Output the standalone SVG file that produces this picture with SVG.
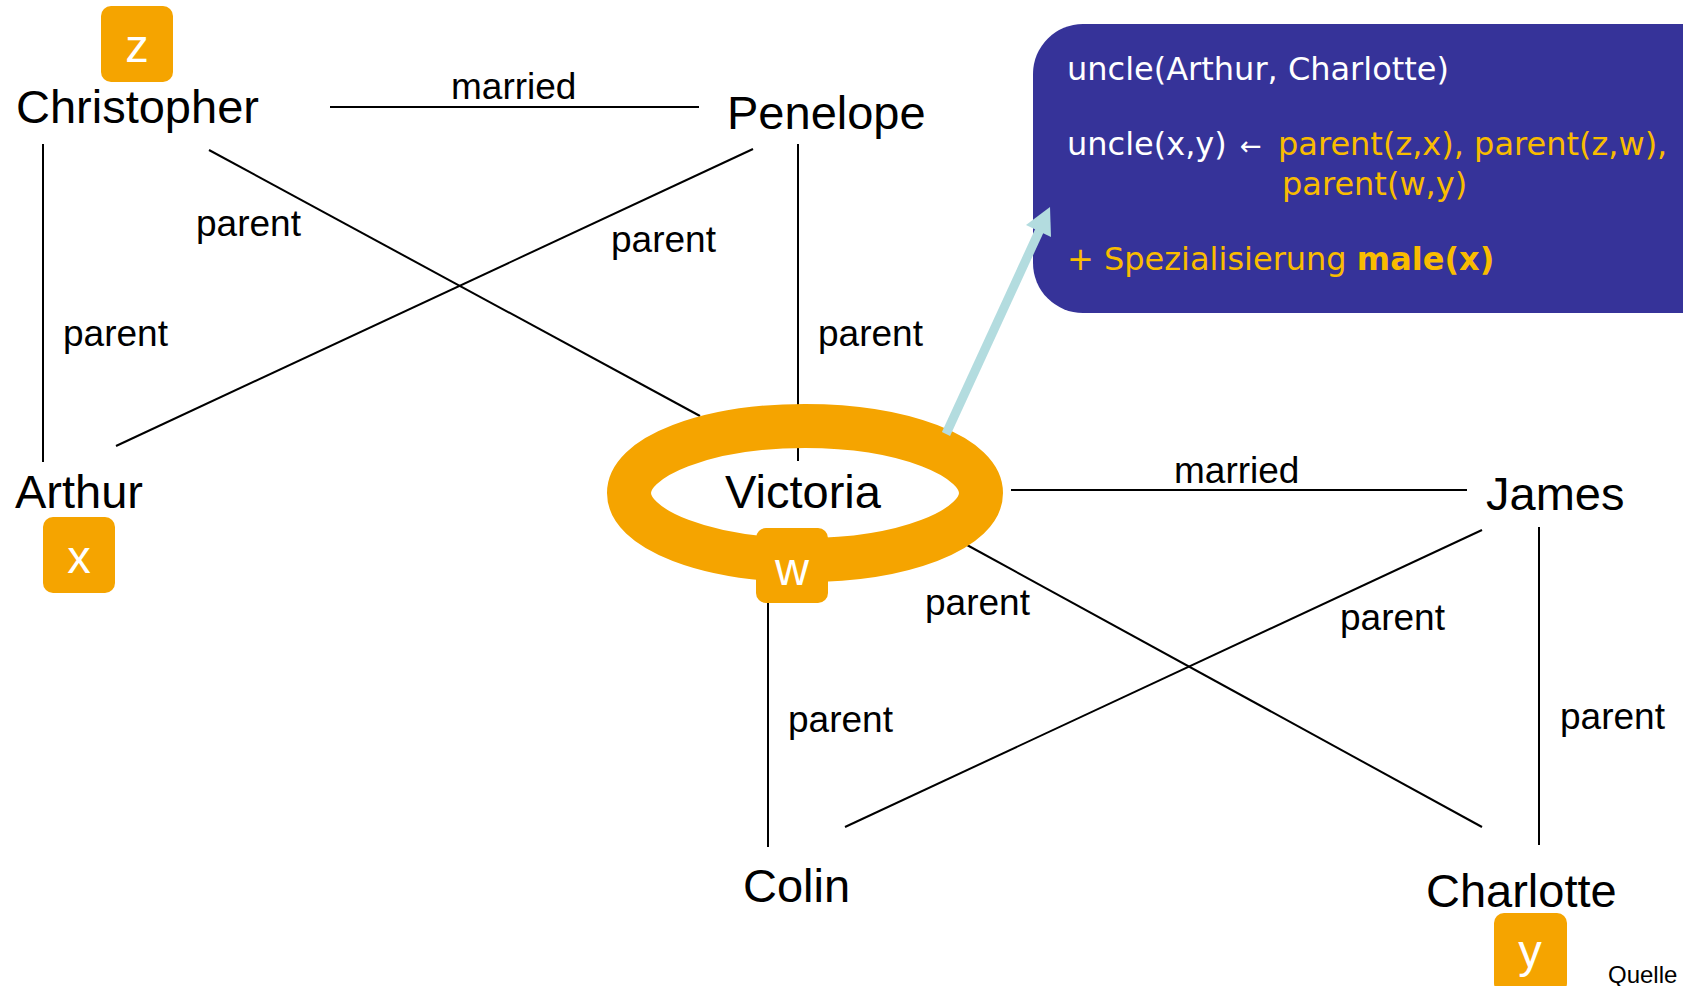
<svg xmlns="http://www.w3.org/2000/svg" width="1683" height="986" viewBox="0 0 1683 986">
<style>
.name{font-family:"Liberation Sans",Arial,sans-serif;font-size:47px;fill:#000}
.lbl{font-family:"Liberation Sans",Arial,sans-serif;font-size:37px;fill:#000}
.edge{stroke:#000;stroke-width:2;fill:none}
.var{fill:#F5A400}
.vt{font-family:"Liberation Sans",Arial,sans-serif;font-size:47px;fill:#fff;text-anchor:middle}
.bt{font-family:"DejaVu Sans",Verdana,sans-serif;font-size:32px}
.w{fill:#fff}
.g{fill:#F9BC00}
</style>
<rect width="1683" height="986" fill="#fff"/>
<g id="connectors">
<line class="edge" x1="330" y1="107" x2="699" y2="107"/>
<line class="edge" x1="1011" y1="490" x2="1467" y2="490"/>
<line class="edge" x1="43" y1="144" x2="43" y2="462"/>
<line class="edge" x1="209" y1="150" x2="700" y2="416"/>
<line class="edge" x1="753" y1="149" x2="116" y2="446"/>
<line class="edge" x1="798" y1="144" x2="798" y2="461"/>
<line class="edge" x1="967" y1="545" x2="1482" y2="827"/>
<line class="edge" x1="1482" y1="530" x2="845" y2="827"/>
<line class="edge" x1="1539" y1="527" x2="1539" y2="845"/>
<line class="edge" x1="768" y1="600" x2="768" y2="847"/>
<text class="lbl" x="451" y="99">married</text>
<text class="lbl" x="1174" y="483">married</text>
<text class="lbl" x="196" y="236">parent</text>
<text class="lbl" x="63" y="346">parent</text>
<text class="lbl" x="611" y="252">parent</text>
<text class="lbl" x="818" y="346">parent</text>
<text class="lbl" x="925" y="615">parent</text>
<text class="lbl" x="788" y="732">parent</text>
<text class="lbl" x="1340" y="630">parent</text>
<text class="lbl" x="1560" y="729">parent</text>
</g>
<g id="victoria">
<ellipse cx="805" cy="493" rx="176" ry="67" fill="none" stroke="#F5A400" stroke-width="44"/>
<text class="name" x="725" y="508">Victoria</text>
<rect class="var" x="756" y="528" width="72" height="75" rx="10"/>
<text class="vt" x="792" y="585">w</text>
</g>
<g id="christopher">
<rect class="var" x="101" y="6" width="72" height="76" rx="10"/>
<text class="vt" x="137" y="62">z</text>
<text class="name" x="16" y="123">Christopher</text>
</g>
<g id="penelope">
<text class="name" x="727" y="129">Penelope</text>
</g>
<g id="arthur">
<text class="name" x="15" y="508">Arthur</text>
<rect class="var" x="43" y="517" width="72" height="76" rx="10"/>
<text class="vt" x="79" y="573">x</text>
</g>
<g id="james">
<text class="name" x="1486" y="510">James</text>
</g>
<g id="colin">
<text class="name" x="743" y="902">Colin</text>
</g>
<g id="charlotte">
<text class="name" x="1426" y="907">Charlotte</text>
<rect class="var" x="1494" y="913" width="73" height="80" rx="10"/>
<text class="vt" x="1530" y="967">y</text>
</g>
<g id="rule-box">
<path d="M1083,24 H1700 V313 H1083 A50,50 0 0 1 1033,263 V74 A50,50 0 0 1 1083,24 Z" fill="#363399"/>
<text class="bt w" x="1067" y="80">uncle(Arthur, Charlotte)</text>
<text class="bt" y="155"><tspan class="w" x="1067">uncle(x,y)</tspan><tspan class="w" x="1240" font-size="26">←</tspan><tspan class="g" x="1278">parent(z,x), parent(z,w),</tspan></text>
<text class="bt g" x="1282" y="195">parent(w,y)</text>
<text class="bt g" x="1067" y="270">+ Spezialisierung <tspan font-weight="bold">male(x)</tspan></text>
</g>
<g id="pointer">
<line x1="946" y1="434" x2="1042" y2="225" stroke="#B3DCDF" stroke-width="9"/>
<polygon points="1050,207 1026,225 1051,237" fill="#B3DCDF"/>
</g>
<g id="source">
<text x="1608" y="983" font-family="Liberation Sans, Arial, sans-serif" font-size="24" fill="#000">Quelle</text>
</g>
</svg>
